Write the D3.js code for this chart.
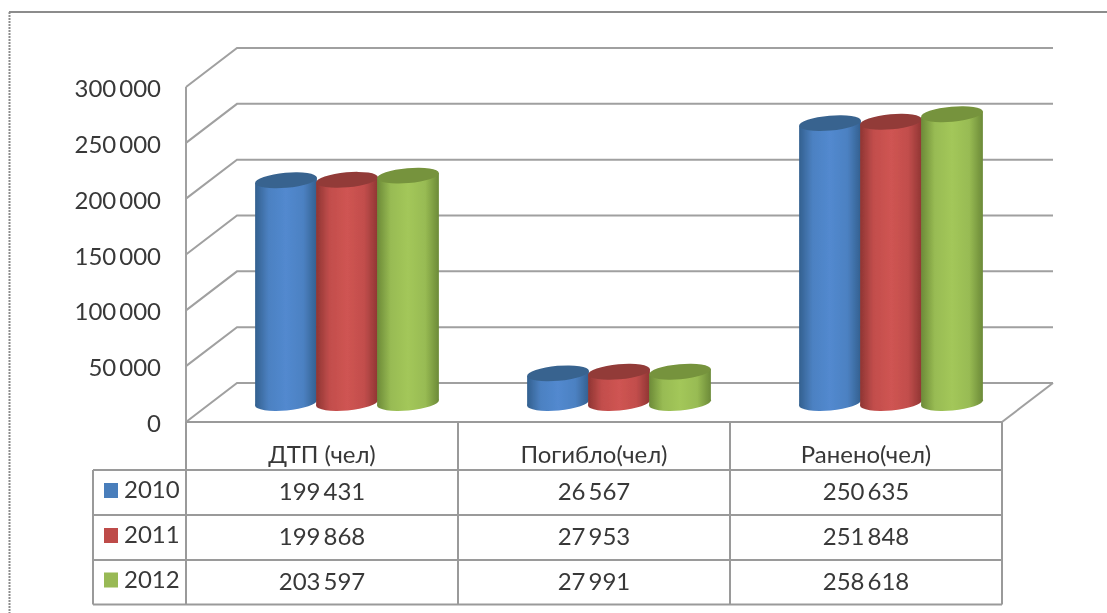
<!DOCTYPE html>
<html>
<head>
<meta charset="utf-8">
<script src="https://cdn.jsdelivr.net/npm/d3@7"></script>
<style>
  html, body { margin: 0; padding: 0; background: #fff; overflow: hidden; }
  svg { display: block; }
  text { font-family: Lato, "Open Sans", sans-serif; fill: #383838; }
</style>
</head>
<body>
<svg></svg>
<script>
const categories = ["ДТП (чел)", "Погибло(чел)", "Ранено(чел)"];
const years = ["2010", "2011", "2012"];
const values2010 = [199431, 26567, 250635];
const values2011 = [199868, 27953, 251848];
const values2012 = [203597, 27991, 258618];
const valueLabels2010 = ["199\u2009431", "26\u2009567", "250\u2009635"];
const valueLabels2011 = ["199\u2009868", "27\u2009953", "251\u2009848"];
const valueLabels2012 = ["203\u2009597", "27\u2009991", "258\u2009618"];
const yTicks = [0, 50000, 100000, 150000, 200000, 250000, 300000];
const yTickLabels = ["0", "50\u2009000", "100\u2009000", "150\u2009000", "200\u2009000", "250\u2009000", "300\u2009000"];

const seriesValues = [values2010, values2011, values2012];
const seriesLabels = [valueLabels2010, valueLabels2011, valueLabels2012];
const colours = [
  { edge: "#33608f", mid: "#5289cf", top: "#39648f", key: "#4a7ebb" },
  { edge: "#8f3533", mid: "#cf5452", top: "#923b39", key: "#be4b48" },
  { edge: "#6c8a38", mid: "#a3c75a", top: "#76933c", key: "#98b954" }
];

const width = 1107, height = 613;
const svg = d3.select("svg")
  .attr("width", width)
  .attr("height", height);

// the image is a soft screenshot, keep it a little blurred
const defs = svg.append("defs");
defs.append("filter").attr("id", "soft")
  .attr("filterUnits", "userSpaceOnUse")
  .attr("x", 0).attr("y", 0).attr("width", width).attr("height", height)
  .append("feGaussianBlur").attr("stdDeviation", 0.7);

colours.forEach((c, i) => {
  const g = defs.append("linearGradient").attr("id", "cyl" + i);
  g.append("stop").attr("offset", "0%").attr("stop-color", c.edge);
  g.append("stop").attr("offset", "22%").attr("stop-color", d3.interpolateRgb(c.edge, c.mid)(0.8));
  g.append("stop").attr("offset", "50%").attr("stop-color", c.mid);
  g.append("stop").attr("offset", "78%").attr("stop-color", d3.interpolateRgb(c.edge, c.mid)(0.8));
  g.append("stop").attr("offset", "100%").attr("stop-color", c.edge);
});

const root = svg.append("g").attr("filter", "url(#soft)");

// outer frame: solid on top, dotted on the left, runs off the picture elsewhere
root.append("line")
  .attr("x1", 9).attr("x2", width).attr("y1", 12).attr("y2", 12)
  .attr("stroke", "#8c8c8c").attr("stroke-width", 2);
root.append("line")
  .attr("x1", 9.5).attr("x2", 9.5).attr("y1", 12).attr("y2", height)
  .attr("stroke", "#8c8c8c").attr("stroke-width", 2)
  .attr("stroke-dasharray", "2 1");

// front and back planes of the 3D box
const frontLeft = 186, frontRight = 1002;
const depthX = 51, depthY = -39;
const yFront = d3.scaleLinear().domain([0, 300000]).range([422, 87]);
const x = d3.scaleBand().domain(categories).range([frontLeft, frontRight]);
const gridColour = "#a0a0a0";

const grid = root.append("g");
grid.selectAll("path")
  .data(yTicks)
  .join("path")
  .attr("fill", "none")
  .attr("stroke", gridColour)
  .attr("stroke-width", 2)
  .attr("d", d => d3.line()([
    [frontLeft, yFront(d)],
    [frontLeft + depthX, yFront(d) + depthY],
    [frontRight + depthX, yFront(d) + depthY]
  ]));

// floor right edge
root.append("path")
  .attr("fill", "none")
  .attr("stroke", gridColour)
  .attr("stroke-width", 2)
  .attr("d", d3.line()([
    [frontRight + depthX, yFront(0) + depthY],
    [frontRight, yFront(0)]
  ]));

// value axis
root.append("line")
  .attr("x1", frontLeft).attr("x2", frontLeft)
  .attr("y1", yFront(300000)).attr("y2", yFront(0))
  .attr("stroke", gridColour).attr("stroke-width", 2);

root.append("g").selectAll("text")
  .data(yTicks)
  .join("text")
  .attr("x", 161)
  .attr("y", d => yFront(d) + 10)
  .attr("text-anchor", "end")
  .attr("font-size", 24)
  .text((d, i) => yTickLabels[i]);

// cylinders, base sits in the middle of the floor depth
const baseShift = -19;
const barBand = 61;
const rx = 31, ry = 7.5, tilt = -5;
const barHeight = v => yFront(0) - yFront(v);
const endX = rx * Math.cos(tilt * Math.PI / 180);
const endY = rx * Math.sin(tilt * Math.PI / 180);

categories.forEach((cat, ci) => {
  const cx0 = x(cat) + x.bandwidth() / 2 + 25;
  seriesValues.forEach((vals, si) => {
    const cx = cx0 + (si - 1) * barBand;
    const baseY = yFront(0) + baseShift;
    const topY = baseY - barHeight(vals[ci]);
    const g = root.append("g");
    g.append("ellipse")
      .attr("transform", `translate(${cx},${baseY}) rotate(${tilt})`)
      .attr("rx", rx).attr("ry", ry)
      .attr("fill", `url(#cyl${si})`);
    g.append("path")
      .attr("fill", `url(#cyl${si})`)
      .attr("d", d3.line()([
        [cx - endX, topY - endY],
        [cx - endX, baseY - endY],
        [cx + endX, baseY + endY],
        [cx + endX, topY + endY]
      ]) + "Z");
    g.append("ellipse")
      .attr("transform", `translate(${cx},${topY}) rotate(${tilt})`)
      .attr("rx", rx).attr("ry", ry)
      .attr("fill", colours[si].top);
  });
});

// data table
const rowLines = [470, 515, 560, 604.5];
const tableLeft = 93;
const table = root.append("g")
  .attr("stroke", "#9a9a9a")
  .attr("stroke-width", 2)
  .attr("fill", "none");

table.append("line").attr("x1", frontLeft).attr("x2", frontRight).attr("y1", 422).attr("y2", 422);
rowLines.forEach(y => {
  table.append("line").attr("x1", tableLeft).attr("x2", frontRight).attr("y1", y).attr("y2", y);
});
table.append("line").attr("x1", tableLeft).attr("x2", tableLeft).attr("y1", 470).attr("y2", 604.5);
[frontLeft, ...categories.map(c => x(c) + x.bandwidth())].forEach(xv => {
  table.append("line").attr("x1", xv).attr("x2", xv).attr("y1", 422).attr("y2", 604.5);
});

root.append("g").selectAll("text")
  .data(categories)
  .join("text")
  .attr("x", d => x(d) + x.bandwidth() / 2)
  .attr("y", 463)
  .attr("text-anchor", "middle")
  .attr("font-size", 24)
  .text(d => d);

years.forEach((yr, si) => {
  const bottom = rowLines[si + 1];
  root.append("rect")
    .attr("x", 104).attr("y", bottom - 32)
    .attr("width", 14).attr("height", 15)
    .attr("fill", colours[si].key);
  root.append("text")
    .attr("x", 124).attr("y", bottom - 17)
    .attr("font-size", 24)
    .text(yr);
  root.append("g").selectAll("text")
    .data(categories)
    .join("text")
    .attr("x", d => x(d) + x.bandwidth() / 2)
    .attr("y", bottom - 15)
    .attr("text-anchor", "middle")
    .attr("font-size", 24)
    .text((d, i) => seriesLabels[si][i]);
});
</script>
</body>
</html>
